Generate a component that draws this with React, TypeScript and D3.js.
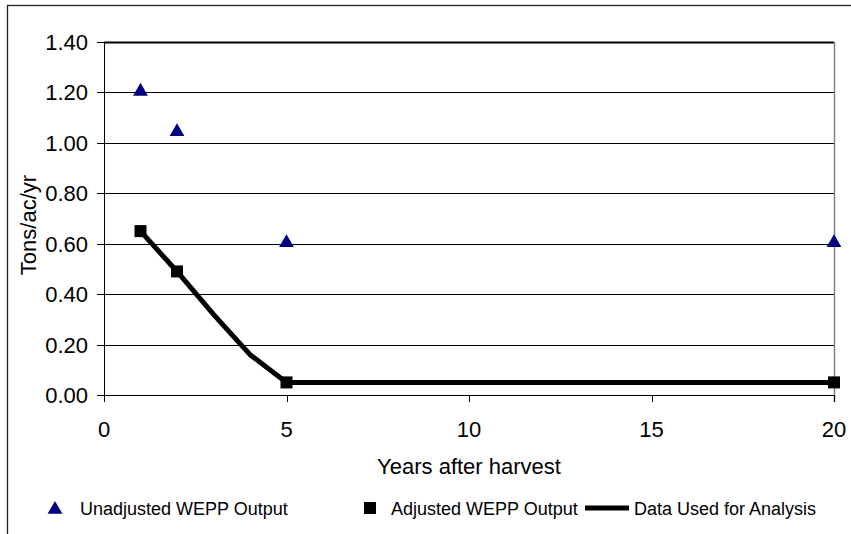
import { useEffect, useRef } from "react";
import * as d3 from "d3";

// values
const unadjustedYears = [1, 2, 5, 20];
const unadjustedValues = [1.21, 1.05, 0.61, 0.61];

const adjustedYears = [1, 2, 5, 20];
const adjustedValues = [0.65, 0.49, 0.05, 0.05];

const analysisYears = [1, 2, 3, 4, 5, 20];
const analysisValues = [0.65, 0.49, 0.32, 0.16, 0.05, 0.05];

const xTicks = [0, 5, 10, 15, 20];
const yTicks = [0, 0.2, 0.4, 0.6, 0.8, 1.0, 1.2, 1.4];

const legendLabels = ["Unadjusted WEPP Output", "Adjusted WEPP Output", "Data Used for Analysis"];

export default function App() {
    const ref = useRef<SVGSVGElement>(null);

    useEffect(() => {
        const width = 851;
        const height = 534;
        const font = "'Liberation Sans', Arial, sans-serif";

        const svg = d3.select(ref.current);
        svg.selectAll("*").remove();

        const x = d3.scaleLinear().domain([0, 20]).range([104, 834]);
        const y = d3.scaleLinear().domain([0, 1.4]).range([395, 42]);

        svg.append("rect")
            .attr("width", width)
            .attr("height", height)
            .attr("fill", "#fff");

        // outer chart frame (cut off at right and bottom)
        svg.append("rect")
            .attr("x", 7.5)
            .attr("y", 5.5)
            .attr("width", width + 10)
            .attr("height", height + 10)
            .attr("fill", "none")
            .attr("stroke", "#222")
            .attr("stroke-width", 1.3);

        // gridlines
        svg.append("g")
            .selectAll("line")
            .data(yTicks.filter(d => d > 0))
            .join("line")
            .attr("x1", x(0))
            .attr("x2", x(20))
            .attr("y1", d => Math.round(y(d)) + 0.5)
            .attr("y2", d => Math.round(y(d)) + 0.5)
            .attr("stroke", "#000")
            .attr("stroke-width", d => d === 1.4 ? 2 : 1);

        // right border of plot area
        svg.append("line")
            .attr("x1", x(20) + 0.5)
            .attr("x2", x(20) + 0.5)
            .attr("y1", y(1.4))
            .attr("y2", y(0) + 7)
            .attr("stroke", "#808080")
            .attr("stroke-width", 1.5);

        // y axis
        const yAxis = svg.append("g");
        yAxis.append("line")
            .attr("x1", x(0) + 0.5).attr("x2", x(0) + 0.5)
            .attr("y1", y(1.4)).attr("y2", y(0))
            .attr("stroke", "#000");
        yAxis.selectAll("line.tick")
            .data(yTicks)
            .join("line")
            .attr("class", "tick")
            .attr("x1", x(0) - 7).attr("x2", x(0))
            .attr("y1", d => Math.round(y(d)) + 0.5)
            .attr("y2", d => Math.round(y(d)) + 0.5)
            .attr("stroke", "#000");
        yAxis.selectAll("text")
            .data(yTicks)
            .join("text")
            .attr("x", 88)
            .attr("y", d => y(d) + 8)
            .attr("text-anchor", "end")
            .attr("font-family", font)
            .attr("font-size", 22)
            .text(d => d3.format(".2f")(d));

        // x axis
        const xAxis = svg.append("g");
        xAxis.append("line")
            .attr("x1", x(0)).attr("x2", x(20))
            .attr("y1", Math.round(y(0)) + 0.5).attr("y2", Math.round(y(0)) + 0.5)
            .attr("stroke", "#000");
        xAxis.selectAll("line.tick")
            .data(xTicks)
            .join("line")
            .attr("class", "tick")
            .attr("x1", d => Math.round(x(d)) + 0.5)
            .attr("x2", d => Math.round(x(d)) + 0.5)
            .attr("y1", y(0)).attr("y2", y(0) + 7)
            .attr("stroke", "#000");
        xAxis.selectAll("text")
            .data(xTicks)
            .join("text")
            .attr("x", d => x(d))
            .attr("y", 437)
            .attr("text-anchor", "middle")
            .attr("font-family", font)
            .attr("font-size", 22)
            .text(d => d);

        // axis titles
        svg.append("text")
            .attr("x", (x(0) + x(20)) / 2)
            .attr("y", 474)
            .attr("text-anchor", "middle")
            .attr("font-family", font)
            .attr("font-size", 22)
            .text("Years after harvest");

        svg.append("text")
            .attr("transform", "translate(36,225) rotate(-90)")
            .attr("text-anchor", "middle")
            .attr("font-family", font)
            .attr("font-size", 22)
            .text("Tons/ac/yr");

        // data used for analysis line
        const line = d3.line<number>()
            .x((d, i) => x(analysisYears[i]))
            .y(d => y(d));

        svg.append("path")
            .datum(analysisValues)
            .attr("d", line)
            .attr("fill", "none")
            .attr("stroke", "#000")
            .attr("stroke-width", 5)
            .attr("stroke-linejoin", "round");

        // adjusted squares
        const sq = 12;
        svg.append("g")
            .selectAll("rect")
            .data(adjustedValues)
            .join("rect")
            .attr("x", (d, i) => x(adjustedYears[i]) - sq / 2)
            .attr("y", d => y(d) - sq / 2)
            .attr("width", sq)
            .attr("height", sq)
            .attr("fill", "#000");

        // unadjusted triangles
        const tri = d3.symbol().type(d3.symbolTriangle).size(95);
        svg.append("g")
            .selectAll("path")
            .data(unadjustedValues)
            .join("path")
            .attr("transform", (d, i) => `translate(${x(unadjustedYears[i])},${y(d) + 1.5})`)
            .attr("d", tri)
            .attr("fill", "#000080");

        // legend
        const ly = 508;
        const legend = svg.append("g")
            .attr("font-family", font)
            .attr("font-size", 18);

        legend.append("path")
            .attr("transform", `translate(55,${ly + 1.5})`)
            .attr("d", tri)
            .attr("fill", "#000080");
        legend.append("text")
            .attr("x", 80).attr("y", ly + 6.5)
            .text(legendLabels[0]);

        legend.append("rect")
            .attr("x", 370 - sq / 2).attr("y", ly - sq / 2)
            .attr("width", sq).attr("height", sq)
            .attr("fill", "#000");
        legend.append("text")
            .attr("x", 391).attr("y", ly + 6.5)
            .text(legendLabels[1]);

        legend.append("line")
            .attr("x1", 585).attr("x2", 629)
            .attr("y1", ly).attr("y2", ly)
            .attr("stroke", "#000")
            .attr("stroke-width", 5);
        legend.append("text")
            .attr("x", 634).attr("y", ly + 6.5)
            .text(legendLabels[2]);
    }, []);

    return (
        <div style={{position: "absolute", left: 0, top: 0}}>
            <svg ref={ref} width={851} height={534} style={{display: "block"}}></svg>
        </div>
    );
}
